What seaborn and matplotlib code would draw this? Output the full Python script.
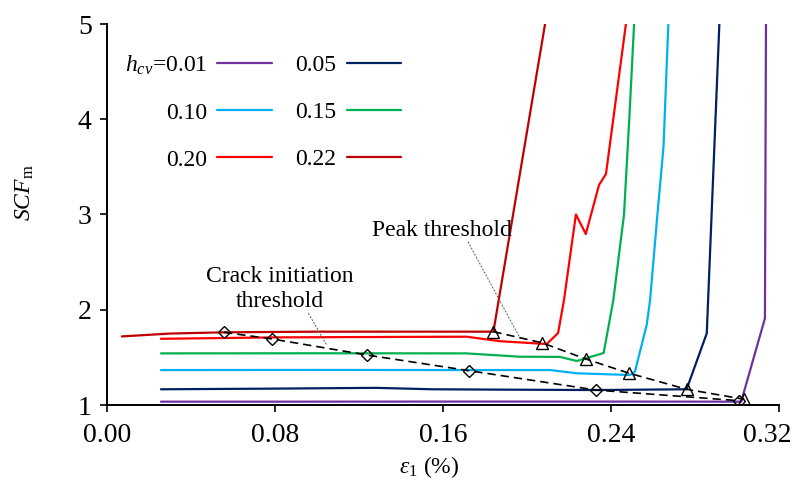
import matplotlib
matplotlib.use("Agg")
import matplotlib.pyplot as plt
import matplotlib.transforms as mtransforms
import seaborn as sns
import pandas as pd

# ---------------- data ----------------
hcv_labels = ["0.01", "0.05", "0.10", "0.15", "0.20", "0.22"]

x_001 = [0.0257, 0.08, 0.16, 0.24, 0.302, 0.3133, 0.3138]
y_001 = [1.035, 1.035, 1.036, 1.036, 1.035, 1.91, 5.0]

x_005 = [0.0257, 0.08, 0.128, 0.155, 0.20, 0.2329, 0.276, 0.2856, 0.2916]
y_005 = [1.165, 1.172, 1.18, 1.165, 1.16, 1.157, 1.165, 1.752, 5.0]

x_010 = [0.0257, 0.10, 0.1725, 0.211, 0.2237, 0.249, 0.2514, 0.257, 0.2586, 0.2621, 0.265, 0.2673]
y_010 = [1.367, 1.368, 1.367, 1.367, 1.333, 1.315, 1.35, 1.84, 2.10, 3.0, 3.71, 5.0]

x_015 = [0.0257, 0.10, 0.171, 0.1967, 0.2157, 0.2237, 0.2365, 0.2411, 0.2462, 0.2487, 0.251]
y_015 = [1.542, 1.543, 1.542, 1.507, 1.505, 1.462, 1.546, 2.10, 3.0, 4.0, 5.0]

x_020 = [0.0257, 0.08, 0.1713, 0.187, 0.2094, 0.2148, 0.2176, 0.2233, 0.228, 0.2343, 0.2376, 0.2471]
y_020 = [1.695, 1.71, 1.717, 1.67, 1.64, 1.755, 2.10, 3.0, 2.795, 3.31, 3.425, 5.0]

x_022 = [0.0071, 0.03, 0.0557, 0.10, 0.14, 0.184, 0.2086]
y_022 = [1.72, 1.75, 1.763, 1.77, 1.77, 1.77, 5.0]

# crack initiation threshold (diamonds), order 0.22 -> 0.01
crack_x = [0.0557, 0.0787, 0.1237, 0.1725, 0.2329, 0.301]
crack_y = [1.763, 1.693, 1.525, 1.36, 1.157, 1.045]

# peak threshold (triangles), order 0.22 -> 0.01
peak_x = [0.184, 0.207, 0.228, 0.2487, 0.276, 0.3035]
peak_y = [1.77, 1.654, 1.483, 1.333, 1.165, 1.06]

x_ticks = [0.00, 0.08, 0.16, 0.24, 0.32]
y_ticks = [1, 2, 3, 4, 5]

series_x = [x_001, x_005, x_010, x_015, x_020, x_022]
series_y = [y_001, y_005, y_010, y_015, y_020, y_022]
colors = ["#7030A0", "#002060", "#00B0F0", "#00B050", "#FF0000", "#C00000"]

# ---------------- style ----------------
sns.set_theme(style="ticks")
plt.rcParams["font.family"] = ["Liberation Serif", "DejaVu Serif"]
plt.rcParams["mathtext.fontset"] = "custom"
plt.rcParams["mathtext.rm"] = "Liberation Serif"
plt.rcParams["mathtext.it"] = "Liberation Serif:italic"
plt.rcParams["mathtext.bf"] = "Liberation Serif:bold"
for k in ["text.color", "axes.labelcolor", "xtick.color", "ytick.color",
          "axes.edgecolor"]:
    plt.rcParams[k] = "black"

FS = 17
TFS = 20

fig = plt.figure(figsize=(8.02, 4.86), dpi=100)
ax = fig.add_axes([107 / 802, 81 / 486, 672 / 802, 381 / 486])

handles = {}
for lab, xs, ys, c in zip(hcv_labels, series_x, series_y, colors):
    df = pd.DataFrame({"x": xs, "y": ys})
    sns.lineplot(data=df, x="x", y="y", sort=False, estimator=None,
                 color=c, lw=1.6, ax=ax)
    handles[lab] = ax.lines[-1]

# threshold dashed lines with markers
ax.plot(crack_x, crack_y, color="black", lw=1.2, ls=(0, (5, 3)), zorder=4)
ax.plot(crack_x, crack_y, ls="none", marker="D", ms=6.5, mfc="none",
        mec="black", mew=1.0, zorder=5)
ax.plot(peak_x, peak_y, color="black", lw=1.2, ls=(0, (5, 3)), zorder=4)
ax.plot(peak_x, peak_y, ls="none", marker="^", ms=8.5, mfc="none",
        mec="black", mew=1.0, zorder=5)

# annotations
ax.text(0.0822, 2.218, "Crack initiation\nthreshold", ha="center", va="center",
        fontsize=FS, linespacing=1.2)
ax.plot([0.0959, 0.1046], [1.963, 1.63], color="#555555", lw=0.7,
        ls=(0, (2, 1.5)), zorder=3)
ax.text(0.1594, 2.837, "Peak threshold", ha="center", va="center", fontsize=FS)
ax.plot([0.1719, 0.1967], [2.714, 1.70], color="#555555", lw=0.7,
        ls=(0, (2, 1.5)), zorder=3)

# axes
ax.set_xlim(0, 0.32)
ax.set_ylim(1, 5)
ax.set_xticks(x_ticks)
ax.set_xticklabels([f"{v:.2f}" for v in x_ticks])
ax.set_yticks(y_ticks)
ax.set_yticklabels([str(v) for v in y_ticks])
ax.tick_params(direction="out", length=5, width=1.2, labelsize=TFS,
               colors="black")
ax.tick_params(axis="x", pad=8)
ax.tick_params(axis="y", pad=6)
for s in ["top", "right"]:
    ax.spines[s].set_visible(False)
for s in ["left", "bottom"]:
    ax.spines[s].set_linewidth(1.4)
    ax.spines[s].set_color("black")

# keep the last x tick label inside the figure, as in the original
last = ax.get_xticklabels()[-1]
last.set_transform(last.get_transform() +
                   mtransforms.ScaledTranslation(-0.12, 0, fig.dpi_scale_trans))

ax.set_xlabel(r"$\varepsilon_\mathit{1}$ (%)", fontsize=FS)
ax.xaxis.set_label_coords(0.48, -0.128)
ax.set_ylabel(r"$\mathit{SCF}_\mathrm{m}$", fontsize=FS)
ax.yaxis.set_label_coords(-0.106, 0.556)

# legend
order = ["0.01", "0.10", "0.20", "0.05", "0.15", "0.22"]
leg_labels = [r"$h_{cv}$=0.01", "0.10", "0.20", "0.05", "0.15", "0.22"]
leg = ax.legend([handles[k] for k in order], leg_labels, ncol=2,
                markerfirst=False, frameon=False, fontsize=FS,
                handlelength=2.3, handletextpad=0.45, columnspacing=1.0,
                labelspacing=1.08, borderpad=0, loc="center",
                bbox_to_anchor=(263 / 802, 1 - 112 / 486),
                bbox_transform=fig.transFigure)

fig.savefig("out.png", dpi=100)
